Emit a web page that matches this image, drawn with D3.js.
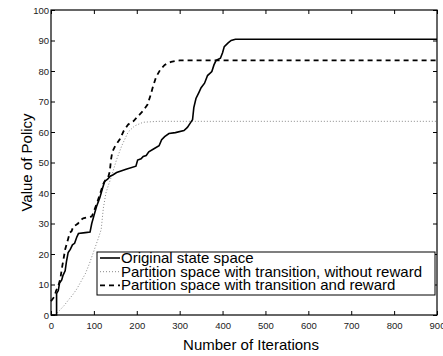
<!DOCTYPE html>
<html>
<head>
<meta charset="utf-8">
<script src="https://cdn.jsdelivr.net/npm/d3@7/dist/d3.min.js"></script>
<style>
body { margin: 0; background: #fff; }
text { font-family: "Liberation Sans", Arial, Helvetica, sans-serif; }
</style>
</head>
<body>
<script>
// values: [iteration, value]
var original = [[0,0],[13,0],[13,7],[17,8],[20,10.5],[25,11.5],[28,13],[33,14.5],[36,17.5],[40,20.5],[45,21.5],[50,23],[55,23.5],[60,25.5],[64,26.7],[80,27],[91,27.2],[95,30],[100,32.5],[106,35.5],[114,38.5],[120,41.5],[125,43.8],[132,44.5],[138,45.5],[145,46],[153,46.7],[175,47.8],[198,48.8],[202,50.8],[210,51.2],[215,52],[222,52.3],[228,53.5],[240,54.5],[252,55.5],[258,57.5],[265,58.5],[275,59.5],[290,59.8],[310,60.5],[318,61.5],[325,63],[330,64],[333,68],[338,71],[345,73],[350,74.5],[358,76],[365,78.5],[375,79.8],[380,82],[385,83.5],[395,84.2],[400,86],[404,88],[413,89.2],[420,90],[430,90.4],[900,90.4]];
var noReward = [[10,0],[20,1.5],[30,3],[40,4.8],[50,6.5],[60,8.5],[70,11],[80,13.5],[90,17],[100,21],[110,25],[117,28],[122,35],[128,40],[134,42.6],[140,45],[153,51],[165,55.5],[180,60],[195,62],[215,63.2],[250,63.5],[900,63.5]];
var withReward = [[0,4.5],[5,5.5],[8,6],[12,8],[17,9.5],[22,12],[25,15],[30,19],[33,21.5],[38,24],[44,27],[48,27.5],[52,29],[58,29.5],[63,30],[68,31],[75,31.7],[85,32],[95,32.3],[100,34],[108,37],[115,40],[122,43],[128,44.5],[133,45],[137,47],[140,51],[143,53.5],[150,55.5],[160,57.5],[170,60.5],[180,62.5],[192,63.5],[205,65.5],[215,67],[225,69],[232,72],[238,75],[245,78],[255,80.5],[265,82],[280,83],[300,83.5],[900,83.5]];
var xTicks = [0,100,200,300,400,500,600,700,800,900];
var yTicks = [0,10,20,30,40,50,60,70,80,90,100];
var legendLabels = ["Original state space", "Partition space with transition, without reward", "Partition space with transition and reward"];

var W = 443, H = 356;
var mLeft = 51, mRight = 437, mTop = 10, mBottom = 315;

var svg = d3.select("body").append("svg").attr("width", W).attr("height", H);

var x = d3.scaleLinear().domain([0, 900]).range([mLeft, mRight]);
var y = d3.scaleLinear().domain([0, 100]).range([mBottom, mTop]);

function styleAxis(g) {
    g.select(".domain").remove();
    g.selectAll("line").attr("stroke", "#000");
    g.selectAll("text").attr("fill", "#222").style("font-size", "9.5px");
}

svg.append("g").attr("transform", "translate(0," + mBottom + ")")
    .call(d3.axisBottom(x).tickValues(xTicks).tickSizeInner(-4).tickSizeOuter(0).tickPadding(7))
    .call(styleAxis);
svg.append("g").attr("transform", "translate(0," + mTop + ")")
    .call(d3.axisTop(x).tickValues(xTicks).tickSizeInner(-4).tickSizeOuter(0).tickFormat(""))
    .call(styleAxis);
svg.append("g").attr("transform", "translate(" + mLeft + ",0)")
    .call(d3.axisLeft(y).tickValues(yTicks).tickSizeInner(-4).tickSizeOuter(0).tickPadding(2))
    .call(styleAxis);
svg.append("g").attr("transform", "translate(" + mRight + ",0)")
    .call(d3.axisRight(y).tickValues(yTicks).tickSizeInner(-4).tickSizeOuter(0).tickFormat(""))
    .call(styleAxis);

svg.append("rect")
    .attr("x", mLeft).attr("y", mTop)
    .attr("width", mRight - mLeft).attr("height", mBottom - mTop)
    .attr("fill", "none").attr("stroke", "#000").attr("stroke-width", 1.2);

var line = d3.line().x(function(d){ return x(d[0]); }).y(function(d){ return y(d[1]); });

var series = [
    {data: noReward, color: "#888", width: 1, dash: "1,2"},
    {data: original, color: "#000", width: 1.6, dash: null},
    {data: withReward, color: "#000", width: 1.8, dash: "5,4"}
];
series.forEach(function(s){
    svg.append("path").datum(s.data)
        .attr("d", line)
        .attr("fill", "none")
        .attr("stroke", s.color)
        .attr("stroke-width", s.width)
        .attr("stroke-dasharray", s.dash);
});

// legend
var lg = svg.append("g");
lg.append("rect").attr("x", 97).attr("y", 252).attr("width", 338).attr("height", 43)
    .attr("fill", "#fff").attr("stroke", "#000").attr("stroke-width", 1);
var legendStyles = [series[1], series[0], series[2]];
legendLabels.forEach(function(lab, i){
    var yy = 258 + i * 13.7;
    var s = legendStyles[i];
    lg.append("line").attr("x1", 100).attr("x2", 120).attr("y1", yy).attr("y2", yy)
        .attr("stroke", s.color).attr("stroke-width", s.width).attr("stroke-dasharray", s.dash);
    lg.append("text").attr("x", 121).attr("y", yy + 5).text(lab)
        .style("font-size", "15px").attr("fill", "#000");
});

svg.append("text").attr("x", 251).attr("y", 350)
    .attr("text-anchor", "middle").style("font-size", "15px").text("Number of Iterations");
svg.append("text").attr("transform", "translate(32," + ((mTop + mBottom) / 2) + ") rotate(-90)")
    .attr("text-anchor", "middle").style("font-size", "15px").text("Value of Policy");
</script>
</body>
</html>
